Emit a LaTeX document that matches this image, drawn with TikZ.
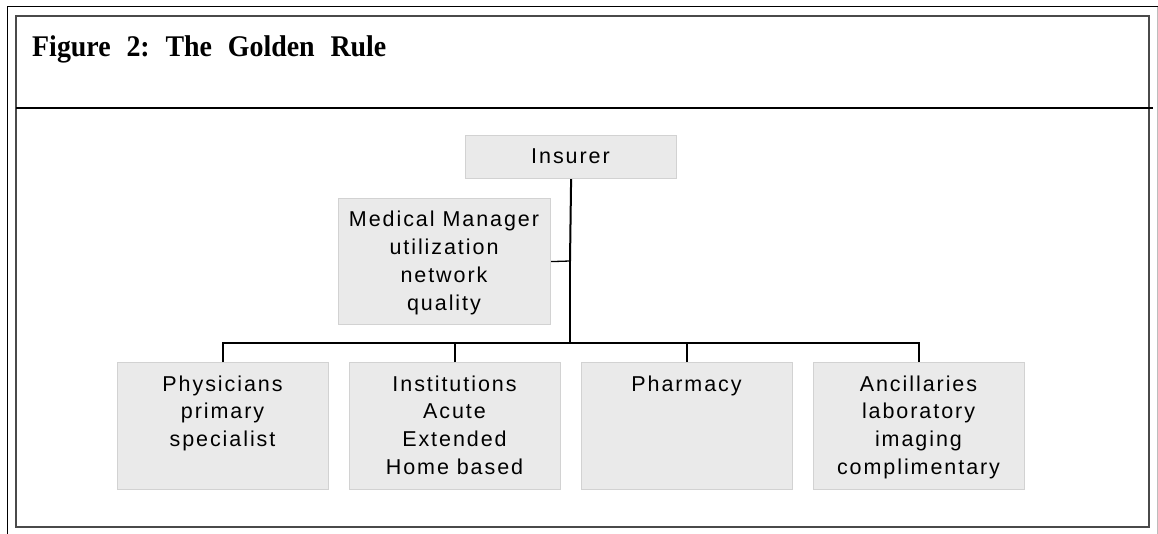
\documentclass[tikz,border=0pt]{standalone}
\usepackage{fontspec}
\usepackage{graphicx}
\setmainfont{Liberation Serif}
\newfontfamily\boxfont[LetterSpace=9]{Liberation Sans}
\newcommand{\linesof}[1]{\begin{tabular}[t]{@{}c@{}}#1\end{tabular}}
\definecolor{boxfill}{HTML}{EAEAEA}
\definecolor{boxedge}{HTML}{D2D2D2}
\definecolor{framegray}{HTML}{4A4A4A}
\definecolor{edgegray}{HTML}{BDBDBD}
\tikzset{
  unitbox/.style={draw=boxedge, line width=1.2pt, fill=boxfill, rectangle,
    inner sep=0pt, anchor=north west},
  boxtext/.style={anchor=base, inner sep=0pt,
    font=\boxfont\fontsize{21.5pt}{27.8pt}\selectfont},
  link/.style={draw=black, line width=1.3pt},
}
\begin{document}
\begin{tikzpicture}[x=1pt, y=-1pt]
\useasboundingbox (0,0) rectangle (1158,534);

% page frame
\draw[black, line width=1pt] (7,534) -- (7,7) -- (1158,7);
\draw[edgegray, line width=1pt] (1157,7) -- (1157,534);
\draw[framegray, line width=1.6pt] (16,16) rectangle (1149,527);
\draw[black, line width=1.3pt] (16,108) -- (1153,108);

% heading
\node[anchor=base west, inner sep=0pt] (title) at (32,56.5)
  {\scalebox{0.93}[1]{\fontsize{30pt}{35pt}\selectfont\bfseries
   Figure\hspace{17pt}2:\hspace{17pt}The\hspace{17pt}Golden\hspace{17pt}Rule}};

% boxes
\node[unitbox, minimum width=211pt, minimum height=43pt] (ins) at (465,135) {};
\node[unitbox, minimum width=212pt, minimum height=126pt] (mm) at (338,198) {};
\node[unitbox, minimum width=211pt, minimum height=127pt] (phys) at (117,362) {};
\node[unitbox, minimum width=211pt, minimum height=127pt] (inst) at (349,362) {};
\node[unitbox, minimum width=211pt, minimum height=127pt] (pharm) at (581,362) {};
\node[unitbox, minimum width=211pt, minimum height=127pt] (anc) at (813,362) {};

% box texts
\node[boxtext] (ins-t) at (570.5,164) {Insurer};
\node[boxtext] (mm-t) at (444,226.7) {\linesof{Medical Manager\\utilization\\network\\quality}};
\node[boxtext] (phys-t) at (222.5,391) {\linesof{Physicians\\primary\\specialist}};
\node[boxtext] (inst-t) at (454.5,391) {\linesof{Institutions\\Acute\\Extended\\Home based}};
\node[boxtext] (pharm-t) at (686.5,391) {\linesof{Pharmacy}};
\node[boxtext] (anc-t) at (918.5,391) {\linesof{Ancillaries\\laboratory\\imaging\\complimentary}};

% connectors
\coordinate (bus) at (570,343);
\coordinate (tap) at (570,261);
\draw[black, line width=2pt] (ins.south) -- (tap);
\draw[link] (tap) -- (bus);
\draw[link] (mm.east) -- (tap);
\draw[link] (phys.north) |- (bus) -| (anc.north);
\draw[link] (inst.north) -- (inst.north |- bus);
\draw[link] (pharm.north) -- (pharm.north |- bus);
\end{tikzpicture}
\end{document}
